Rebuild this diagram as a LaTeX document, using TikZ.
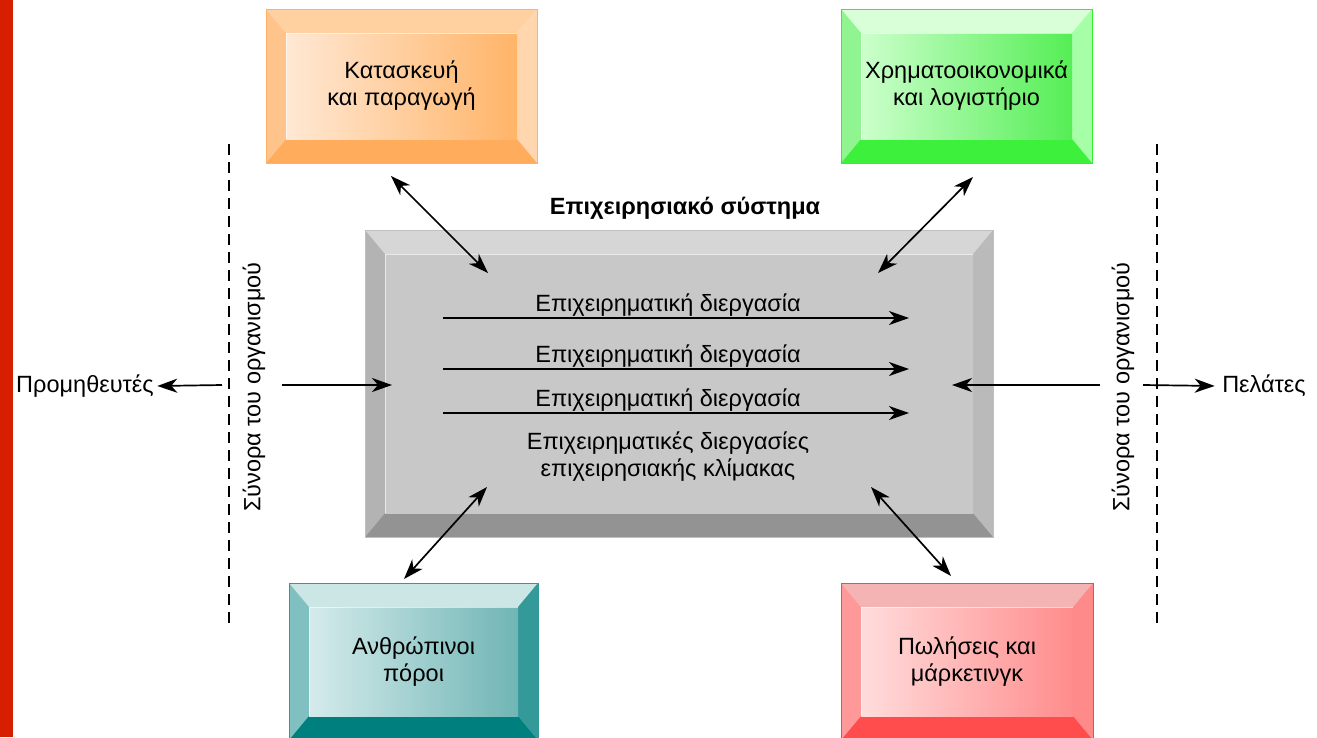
\documentclass[tikz,border=0pt]{standalone}
\usepackage{fontspec}
\setmainfont{Liberation Sans}
\usetikzlibrary{arrows.meta}

\definecolor{redbar}{HTML}{D61F00}
\definecolor{orLine}{HTML}{FFB266}\definecolor{orTop}{HTML}{FFD0A0}\definecolor{orLeft}{HTML}{FFC48C}
\definecolor{orRight}{HTML}{FFD6AE}\definecolor{orBot}{HTML}{FFAD5C}\definecolor{orInA}{HTML}{FFE8D4}\definecolor{orInB}{HTML}{FFB468}
\definecolor{grLine}{HTML}{33EE33}\definecolor{grTop}{HTML}{D8FFD8}\definecolor{grLeft}{HTML}{90F590}
\definecolor{grRight}{HTML}{A6FFA6}\definecolor{grBot}{HTML}{3CF03C}\definecolor{grInA}{HTML}{CCFFCC}\definecolor{grInB}{HTML}{55EE55}
\definecolor{teLine}{HTML}{339999}\definecolor{teTop}{HTML}{CCE5E5}\definecolor{teLeft}{HTML}{80C0C0}
\definecolor{teRight}{HTML}{339999}\definecolor{teBot}{HTML}{007F7F}\definecolor{teInA}{HTML}{D5EBEB}\definecolor{teInB}{HTML}{70B5B5}
\definecolor{rdLine}{HTML}{FF4444}\definecolor{rdTop}{HTML}{F4B4B4}\definecolor{rdLeft}{HTML}{FF9898}
\definecolor{rdRight}{HTML}{FF8A8A}\definecolor{rdBot}{HTML}{FF4C4C}\definecolor{rdInA}{HTML}{FFDCDC}\definecolor{rdInB}{HTML}{FF8C8C}
\definecolor{gyLine}{HTML}{BFBFBF}\definecolor{gyTop}{HTML}{D6D6D6}\definecolor{gyLeft}{HTML}{B3B3B3}
\definecolor{gyRight}{HTML}{BABABA}\definecolor{gyBot}{HTML}{939393}\definecolor{gyInA}{HTML}{C8C8C8}\definecolor{gyInB}{HTML}{C8C8C8}

\begin{document}
\begin{tikzpicture}[x=1pt,y=-1pt,
  >={Stealth[length=20pt,width=14pt,inset=6pt]},
  every node/.style={font=\fontsize{23.5}{27}\selectfont,align=center},
  bevel/.style={draw=#1Line,line width=0.8pt,path picture={
    \path (path picture bounding box.north west) coordinate (pa)
          (path picture bounding box.north east) coordinate (pb)
          (path picture bounding box.south east) coordinate (pc)
          (path picture bounding box.south west) coordinate (pd);
    \path (pa) ++(20,24) coordinate (qa) (pb) ++(-20,24) coordinate (qb)
          (pc) ++(-20,-24) coordinate (qc) (pd) ++(20,-24) coordinate (qd);
    \fill[#1Top] (pa) -- (pb) -- (qb) -- (qa) -- cycle;
    \fill[#1Left] (pa) -- (qa) -- (qd) -- (pd) -- cycle;
    \fill[#1Right] (pb) -- (qb) -- (qc) -- (pc) -- cycle;
    \fill[#1Bot] (pd) -- (qd) -- (qc) -- (pc) -- cycle;
    \shade[left color=#1InA,right color=#1InB] (qa) rectangle (qc);
    \draw[white,opacity=.6,line width=1pt] (qd) -- (qa) -- (qb);
  }},
  flow/.style={line width=1.7pt,->},
  both/.style={line width=1.7pt,<->},
  border/.style={line width=1.3pt,dash pattern=on 11pt off 7pt}]
\useasboundingbox (0,0) rectangle (1317,737);
\fill[redbar] (0,0) rectangle (13,737);

\node[bevel=or,minimum width=271pt,minimum height=154pt] (kat) at (401.5,86) {Κατασκευή\\και παραγωγή};
\node[bevel=gr,minimum width=251pt,minimum height=154pt] (fin) at (966.5,86) {Χρηματοοικονομικά\\και λογιστήριο};
\node[bevel=gy,minimum width=628pt,minimum height=307pt] (sys) at (679,383.5) {};
\node[bevel=te,minimum width=249pt,minimum height=157pt] (hr) at (413.5,661.5) {Ανθρώπινοι\\πόροι};
\node[bevel=rd,minimum width=252pt,minimum height=157pt] (sales) at (967,661.5) {Πωλήσεις και\\μάρκετινγκ};

\node[font=\bfseries\fontsize{23.5}{27}\selectfont] (title) at (685,208) {Επιχειρησιακό σύστημα};
\foreach \yy [count=\i] in {318,369,413}{
  \node[anchor=base] (proc\i) at (668,\yy-7) {Επιχειρηματική διεργασία};
  \coordinate (ps\i) at (443,\yy);
  \coordinate (pe\i) at (909,\yy);
  \draw[flow] (ps\i) -- (pe\i);
}
\node (scale) at (668,457) {Επιχειρηματικές διεργασίες\\επιχειρησιακής κλίμακας};

\node[rotate=90] (bndL) at (254,387) {Σύνορα του οργανισμού};
\node[rotate=90] (bndR) at (1123,387) {Σύνορα του οργανισμού};
\coordinate (dL1) at (229,144); \coordinate (dL2) at (229,625);
\coordinate (dR1) at (1157,144); \coordinate (dR2) at (1157,625);
\draw[border] (dL1) -- (dL2);
\draw[border] (dR1) -- (dR2);

\node (sup) at (85,386) {Προμηθευτές};
\node (cust) at (1264,386) {Πελάτες};
\coordinate (bl1) at (222,385); \coordinate (bl2) at (282,385); \coordinate (sysL) at (392,385);
\coordinate (br1) at (1100,385); \coordinate (br2) at (1143,385); \coordinate (sysR) at (952,385);
\draw[flow] (bl1) -- (sup.east);
\draw[flow] (bl2) -- (sysL);
\draw[flow] (br1) -- (sysR);
\draw[flow,shorten >=4pt] (br2) -- (cust.west);

\coordinate (k1) at (391,176); \coordinate (k2) at (488,273);
\coordinate (f1) at (973,177); \coordinate (f2) at (878,273);
\coordinate (h1) at (487,487); \coordinate (h2) at (404,579);
\coordinate (s1) at (871,487); \coordinate (s2) at (951,576);
\draw[both] (k1) -- (k2);
\draw[both] (f1) -- (f2);
\draw[both] (h1) -- (h2);
\draw[both] (s1) -- (s2);
\end{tikzpicture}
\end{document}
